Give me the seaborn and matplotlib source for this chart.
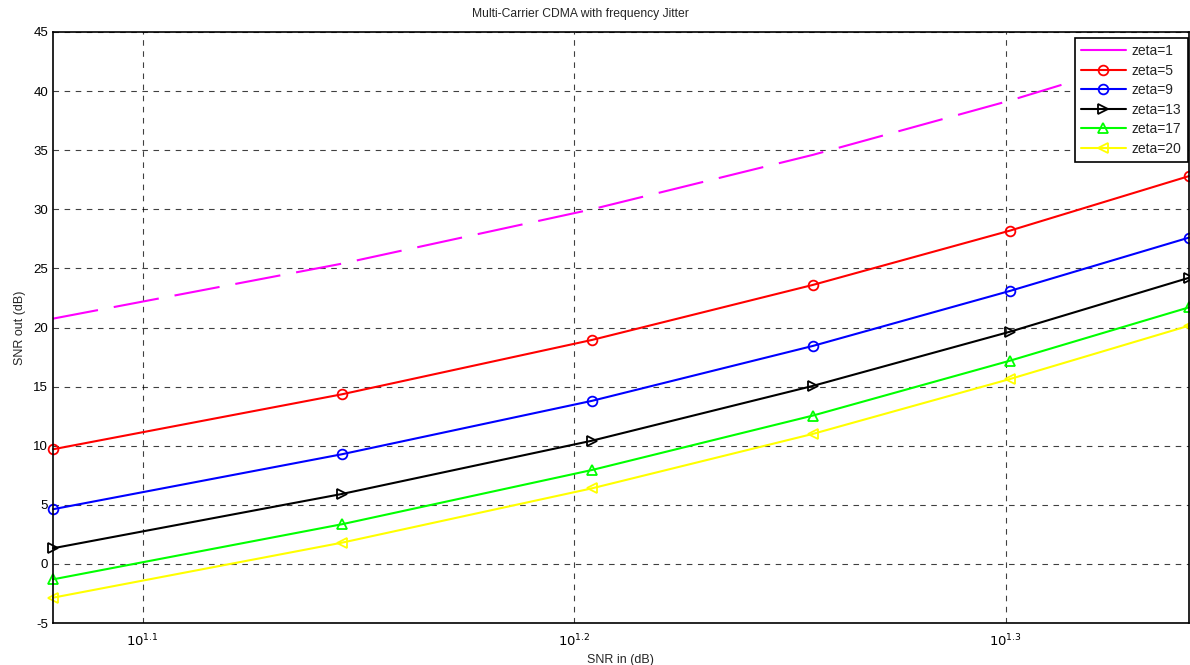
import numpy as np
import pandas as pd
import matplotlib
matplotlib.use("Agg")
import matplotlib.pyplot as plt
import seaborn as sns
from matplotlib.ticker import FixedLocator, FixedFormatter, NullLocator

# Data
snr_in = [12, 14, 16, 18, 20, 22]
zeta_1 = [20.75, 25.4, 30.0, 34.6, 39.2, 43.8]
zeta_5 = [9.7, 14.35, 18.95, 23.6, 28.2, 32.8]
zeta_9 = [4.63, 9.28, 13.8, 18.44, 23.1, 27.6]
zeta_13 = [1.33, 5.92, 10.43, 15.06, 19.65, 24.2]
zeta_17 = [-1.3, 3.36, 7.95, 12.55, 17.2, 21.7]
zeta_20 = [-2.85, 1.8, 6.4, 11.0, 15.65, 20.15]

labels = ["zeta=1", "zeta=5", "zeta=9", "zeta=13", "zeta=17", "zeta=20"]
series = [zeta_1, zeta_5, zeta_9, zeta_13, zeta_17, zeta_20]
colors = ["#ff00ff", "#ff0000", "#0000ff", "#000000", "#00ff00", "#ffff00"]
markers = [None, "o", "o", ">", "^", "<"]

sns.set_style("white")
plt.rcParams['font.family'] = ['Liberation Sans', 'DejaVu Sans']
plt.rcParams['axes.unicode_minus'] = False

fig = plt.figure(figsize=(11.9, 6.65), dpi=100)
ax = fig.add_axes([0.0445, 0.063, 0.9545, 0.889])

for lab, vals, col, mk in zip(labels, series, colors, markers):
    if mk is None:
        sns.lineplot(x=snr_in, y=vals, ax=ax, color=col, lw=1.5,
                     label=lab, dashes=False)
        ax.lines[-1].set_dashes((22, 7.7))
    else:
        sns.lineplot(x=snr_in, y=vals, ax=ax, color=col, lw=1.5, label=lab,
                     marker=mk, markersize=7, markerfacecolor="none",
                     markeredgecolor=col, markeredgewidth=1.3, clip_on=False)

ax.set_xscale("log")
ax.set_xlim(12, 22)
ax.set_ylim(-5, 45)
ax.xaxis.set_major_locator(FixedLocator([10**1.1, 10**1.2, 10**1.3]))
ax.xaxis.set_major_formatter(FixedFormatter(["$10^{1.1}$", "$10^{1.2}$", "$10^{1.3}$"]))
ax.xaxis.set_minor_locator(NullLocator())
ax.set_yticks(np.arange(-5, 46, 5))

ax.grid(True, color="black", linestyle=(0, (5, 5)), linewidth=0.8, alpha=0.75)
ax.tick_params(direction="in", labelsize=9.5, length=4, colors="black")
ax.tick_params(axis="x", pad=7)
for s in ax.spines.values():
    s.set_color("black")
    s.set_linewidth(1.2)

ax.set_title("Multi-Carrier CDMA with frequency Jitter", fontsize=8.7,
             x=0.464, pad=11)
ax.set_xlabel("SNR in (dB)", fontsize=9, labelpad=3)
ax.set_ylabel("SNR out (dB)", fontsize=9, labelpad=5)

leg = ax.legend(loc="upper right", bbox_to_anchor=(0.9993, 0.99), fontsize=10,
                fancybox=False, framealpha=1, edgecolor="black",
                borderaxespad=0, handlelength=3.2, handletextpad=0.45,
                labelspacing=0.4, borderpad=0.45)
leg.get_frame().set_linewidth(1.2)
leg.get_lines()[0].set_linestyle("-")
leg.set_zorder(5)

fig.savefig("out.png", dpi=100)
